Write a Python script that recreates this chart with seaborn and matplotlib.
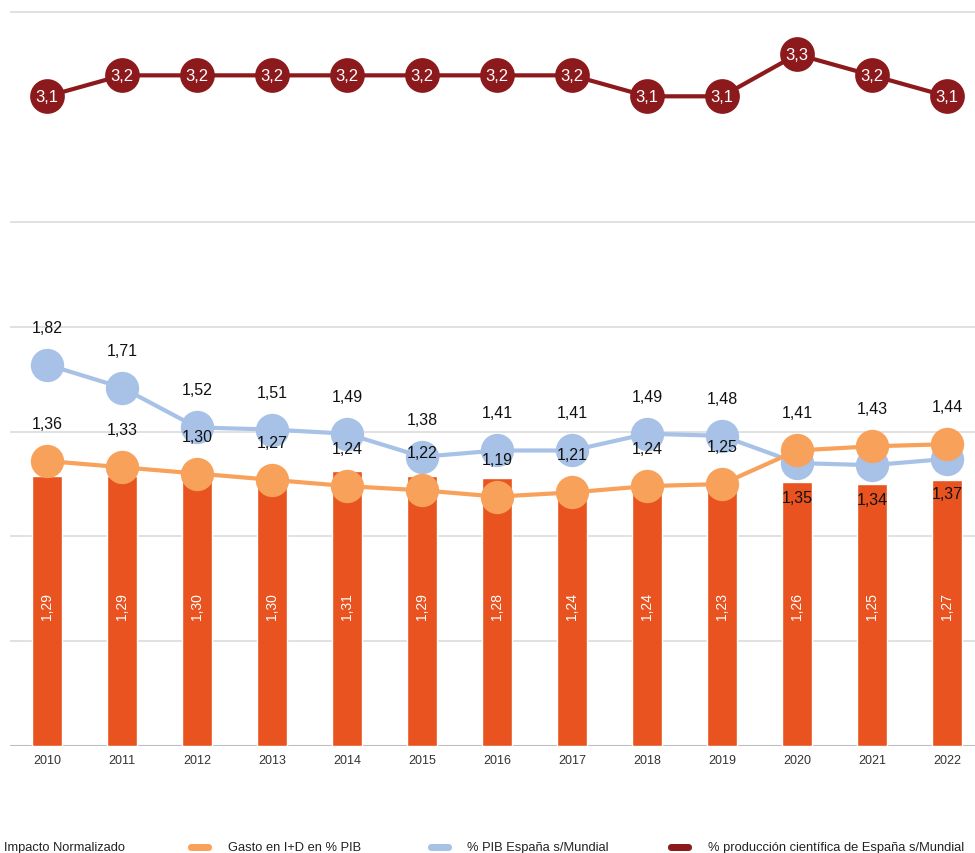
import numpy as np
import pandas as pd
import seaborn as sns
import matplotlib.pyplot as plt
from matplotlib.patches import FancyBboxPatch

sns.set_theme(style="white")
plt.rcParams["font.family"] = ["Liberation Sans", "DejaVu Sans"]

years = ["2010", "2011", "2012", "2013", "2014", "2015", "2016",
         "2017", "2018", "2019", "2020", "2021", "2022"]
impacto = [1.29, 1.29, 1.30, 1.30, 1.31, 1.29, 1.28, 1.24, 1.24, 1.23, 1.26, 1.25, 1.27]
gasto_id = [1.36, 1.33, 1.30, 1.27, 1.24, 1.22, 1.19, 1.21, 1.24, 1.25, 1.41, 1.43, 1.44]
pib_mundial = [1.82, 1.71, 1.52, 1.51, 1.49, 1.38, 1.41, 1.41, 1.49, 1.48, 1.35, 1.34, 1.37]
produccion = [3.1, 3.2, 3.2, 3.2, 3.2, 3.2, 3.2, 3.2, 3.1, 3.1, 3.3, 3.2, 3.1]

legend_labels = ["Impacto Normalizado", "Gasto en I+D en % PIB",
                 "% PIB España s/Mundial", "% producción científica de España s/Mundial"]

C_BAR = "#e8531f"
C_ORANGE = "#f8a15a"
C_BLUE = "#a7c2e6"
C_RED = "#8c1a1c"

df = pd.DataFrame({
    "year": years,
    "pos": np.arange(len(years)),
    "impacto": impacto,
    "gasto": gasto_id,
    "pib": pib_mundial,
    "prod": produccion,
})

fmt = lambda v, d=2: f"{v:.{d}f}".replace(".", ",")

fig = plt.figure(figsize=(9.75, 8.54), dpi=100)
ax = fig.add_axes([9.5 / 975, 107 / 854, 965.5 / 975, 744 / 854])

# Bars: normalised impact
sns.barplot(data=df, x="year", y="impacto", color=C_BAR, saturation=1,
            width=0.39, ax=ax, zorder=2)

# Lines with big round markers
sns.lineplot(data=df, x="pos", y="pib", color=C_BLUE, lw=3, marker="o",
             markersize=24, markeredgewidth=0, ax=ax, zorder=3)
sns.lineplot(data=df, x="pos", y="gasto", color=C_ORANGE, lw=3, marker="o",
             markersize=24, markeredgewidth=0, ax=ax, zorder=4)
sns.lineplot(data=df, x="pos", y="prod", color=C_RED, lw=3, marker="o",
             markersize=25, markeredgewidth=0, ax=ax, zorder=4)

# Value labels
for i, row in df.iterrows():
    ax.text(i, 0.67, fmt(row["impacto"]), rotation=90, ha="center", va="center",
            color="white", fontsize=10, zorder=6)
    ax.annotate(fmt(row["gasto"]), (i, row["gasto"]), xytext=(0, 27),
                textcoords="offset points", ha="center", va="center",
                fontsize=11.5, color="#111111", zorder=7)
    off = 27 if row["pib"] > row["gasto"] else -25
    ax.annotate(fmt(row["pib"]), (i, row["pib"]), xytext=(0, off),
                textcoords="offset points", ha="center", va="center",
                fontsize=11.5, color="#111111", zorder=7)
    ax.text(i, row["prod"], fmt(row["prod"], 1), ha="center", va="center",
            color="white", fontsize=12, zorder=7)

ax.set_xlim(-0.5, 12.373)
ax.set_ylim(0, 3.55)
ax.set_yticks([0, 0.5, 1.0, 1.5, 2.0, 2.5, 3.5])
ax.set_yticklabels([])
ax.grid(axis="y", color="#dedede", lw=1.3, zorder=0)
ax.grid(axis="x", visible=False)
ax.set_axisbelow(True)
ax.axhline(0, color="#bdbdbd", lw=1.5, zorder=1)
for s in ax.spines.values():
    s.set_visible(False)
ax.set_xlabel("")
ax.set_ylabel("")
ax.set_xticks(np.arange(len(years)))
ax.set_xticklabels(years, fontsize=9, color="#333333")
ax.tick_params(axis="x", length=0, pad=6)
ax.tick_params(axis="y", length=0)

# Legend along the bottom edge
leg_y = 848
def fy(py):
    return 1 - py / 854

fig.text(4 / 975, fy(leg_y), legend_labels[0], fontsize=9.3, color="#222222",
         ha="left", va="center")
for (x0, col, txt_x, lab) in [(188, C_ORANGE, 228, legend_labels[1]),
                              (428, C_BLUE, 467, legend_labels[2]),
                              (668, C_RED, 708, legend_labels[3])]:
    pill = FancyBboxPatch((x0 / 975, fy(leg_y + 4)), 24 / 975, 7 / 854,
                          boxstyle="round,pad=0,rounding_size=0.004",
                          transform=fig.transFigure, facecolor=col,
                          edgecolor="none")
    fig.patches.append(pill)
    fig.text(txt_x / 975, fy(leg_y), lab, fontsize=9.3, color="#222222",
             ha="left", va="center")

fig.savefig("out.png", dpi=100)
